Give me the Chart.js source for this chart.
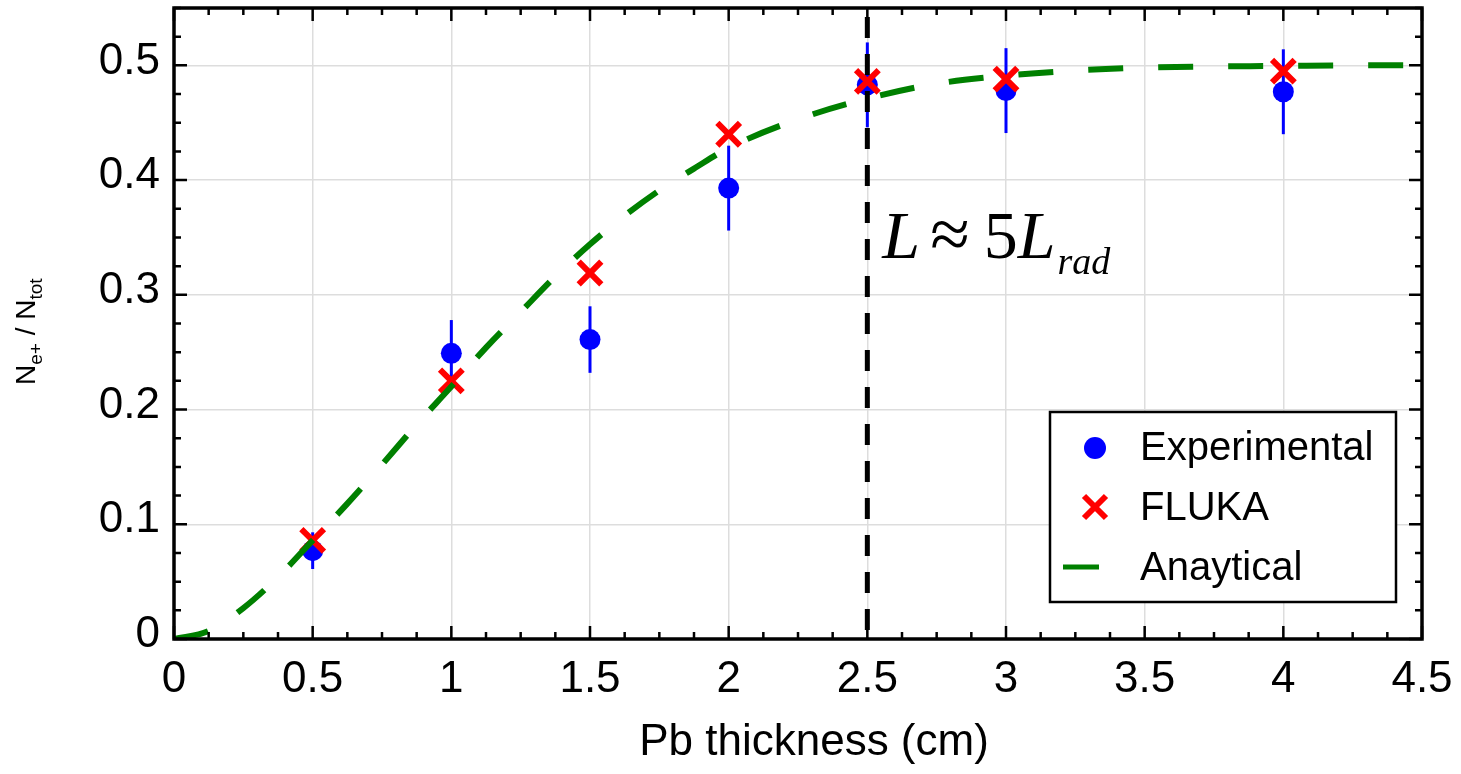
<!DOCTYPE html>
<html>
<head>
<meta charset="utf-8">
<script src="https://cdn.jsdelivr.net/npm/chart.js@4.4.0/dist/chart.umd.min.js"></script>
<style>
  html, body { margin: 0; padding: 0; background: #fff; }
  canvas { display: block; }
</style>
</head>
<body>
<canvas id="myChart" width="1461" height="774"></canvas>
<script>
// data
const xExp = [0.5, 1, 1.5, 2, 2.5, 3, 4];
const yExp = [0.077, 0.249, 0.261, 0.393, 0.483, 0.478, 0.477];
const errExp = [0.016, 0.029, 0.029, 0.037, 0.037, 0.037, 0.037];

const xFluka = [0.5, 1, 1.5, 2, 2.5, 3, 4];
const yFluka = [0.086, 0.225, 0.319, 0.440, 0.486, 0.488, 0.495];

const xAnalytic = [0, 0.125, 0.25, 0.375, 0.5, 0.625, 0.75, 0.875, 1, 1.125, 1.25, 1.375, 1.5, 1.625, 1.75, 1.875, 2, 2.25, 2.5, 2.75, 3, 3.25, 3.5, 3.75, 4, 4.25, 4.5];
const yAnalytic = [0, 0.007, 0.027, 0.054, 0.086, 0.118, 0.152, 0.187, 0.220, 0.254, 0.285, 0.316, 0.344, 0.369, 0.391, 0.410, 0.428, 0.453, 0.471, 0.484, 0.491, 0.4955, 0.498, 0.499, 0.4995, 0.5, 0.5];

const markerX = 2.5;

const xTicks = [0, 0.5, 1, 1.5, 2, 2.5, 3, 3.5, 4, 4.5];
const xTickLabels = ['0', '0.5', '1', '1.5', '2', '2.5', '3', '3.5', '4', '4.5'];
const yTicks = [0, 0.1, 0.2, 0.3, 0.4, 0.5];
const yTickLabels = ['0', '0.1', '0.2', '0.3', '0.4', '0.5'];

const SANS = '"Liberation Sans", Arial, Helvetica, sans-serif';
const SERIF = '"Liberation Serif", "Times New Roman", serif';

const toPts = (xs, ys) => xs.map((x, i) => ({ x: x, y: ys[i] }));

// error bars under the markers
const errorBars = {
  id: 'errorBars',
  beforeDatasetsDraw(chart) {
    const ctx = chart.ctx;
    const xs = chart.scales.x, ys = chart.scales.y;
    ctx.save();
    ctx.strokeStyle = '#0000ff';
    ctx.lineWidth = 3;
    xExp.forEach((x, i) => {
      const px = xs.getPixelForValue(x);
      ctx.beginPath();
      ctx.moveTo(px, ys.getPixelForValue(yExp[i] - errExp[i]));
      ctx.lineTo(px, ys.getPixelForValue(yExp[i] + errExp[i]));
      ctx.stroke();
    });
    ctx.restore();
  }
};

// frame with inward ticks on all four sides
const frame = {
  id: 'frame',
  afterDatasetsDraw(chart) {
    const ctx = chart.ctx;
    const a = chart.chartArea;
    const xs = chart.scales.x, ys = chart.scales.y;
    ctx.save();
    ctx.strokeStyle = '#000';
    ctx.lineWidth = 2.5;
    ctx.beginPath();
    for (let v = 0; v <= 4.5001; v += 0.125) {
      const major = Math.abs(v / 0.5 - Math.round(v / 0.5)) < 1e-6;
      const len = major ? 13 : 7;
      const px = xs.getPixelForValue(v);
      ctx.moveTo(px, a.bottom); ctx.lineTo(px, a.bottom - len);
      ctx.moveTo(px, a.top); ctx.lineTo(px, a.top + len);
    }
    for (let v = 0; v <= 0.5501; v += 0.025) {
      const major = Math.abs(v / 0.1 - Math.round(v / 0.1)) < 1e-6;
      const len = major ? 13 : 7;
      const py = ys.getPixelForValue(v);
      ctx.moveTo(a.left, py); ctx.lineTo(a.left + len, py);
      ctx.moveTo(a.right, py); ctx.lineTo(a.right - len, py);
    }
    ctx.stroke();
    ctx.lineWidth = 3.5;
    ctx.strokeRect(a.left, a.top, a.right - a.left, a.bottom - a.top);
    ctx.restore();
  }
};

// titles, annotation and legend box
const extras = {
  id: 'extras',
  afterDraw(chart) {
    const ctx = chart.ctx;
    const a = chart.chartArea;
    const xs = chart.scales.x;
    ctx.save();
    ctx.fillStyle = '#000';
    ctx.textBaseline = 'alphabetic';

    // x title
    ctx.font = '44px ' + SANS;
    ctx.textAlign = 'center';
    ctx.fillText('Pb thickness (cm)', 814, 755);

    // y title with subscripts, rotated
    ctx.save();
    ctx.translate(35, 385);
    ctx.rotate(-Math.PI / 2);
    ctx.textAlign = 'left';
    let cx = 0;
    const parts = [['N', 28, 0], ['e+', 19, 7], [' / N', 28, 0], ['tot', 19, 7]];
    parts.forEach(p => {
      ctx.font = p[1] + 'px ' + SANS;
      ctx.fillText(p[0], cx, p[2]);
      cx += ctx.measureText(p[0]).width;
    });
    ctx.restore();

    // annotation next to the dashed line
    ctx.textAlign = 'left';
    let ax = xs.getPixelForValue(markerX) + 15;
    const base = 258;
    const ann = [['L', 'italic 68px ' + SERIF, 0, 10], ['\u2248', '72px ' + SERIF, 0, 14], ['5', '68px ' + SERIF, 0, 0], ['L', 'italic 68px ' + SERIF, 0, 2], ['rad', 'italic 38px ' + SERIF, 16, 0]];
    ann.forEach(p => {
      ctx.font = p[1];
      ctx.fillText(p[0], ax, base + p[2]);
      ax += ctx.measureText(p[0]).width + p[3];
    });

    // legend
    const bx = a.right - 372, by = a.bottom - 227, bw = 346, bh = 190;
    ctx.fillStyle = '#fff';
    ctx.fillRect(bx, by, bw, bh);
    ctx.strokeStyle = '#000';
    ctx.lineWidth = 2.5;
    ctx.strokeRect(bx, by, bw, bh);

    const sx = bx + 45;
    ctx.fillStyle = '#0000ff';
    ctx.beginPath();
    ctx.arc(sx, by + 36, 11, 0, Math.PI * 2);
    ctx.fill();

    ctx.strokeStyle = '#ff0000';
    ctx.lineWidth = 6;
    ctx.beginPath();
    ctx.moveTo(sx - 11, by + 84); ctx.lineTo(sx + 11, by + 106);
    ctx.moveTo(sx + 11, by + 84); ctx.lineTo(sx - 11, by + 106);
    ctx.stroke();

    ctx.strokeStyle = '#008000';
    ctx.lineWidth = 5;
    ctx.beginPath();
    ctx.moveTo(bx + 13, by + 155); ctx.lineTo(bx + 49, by + 155);
    ctx.stroke();

    ctx.fillStyle = '#000';
    ctx.font = '40px ' + SANS;
    ctx.fillText('Experimental', bx + 90, by + 48);
    ctx.fillText('FLUKA', bx + 90, by + 108);
    ctx.fillText('Anaytical', bx + 90, by + 168);
    ctx.restore();
  }
};

const ctx = document.getElementById('myChart').getContext('2d');

new Chart(ctx, {
  type: 'scatter',
  data: {
    datasets: [
      {
        label: 'marker',
        data: [{ x: markerX, y: 0 }, { x: markerX, y: 0.55 }],
        showLine: true,
        borderColor: '#000',
        borderWidth: 5,
        borderDash: [21, 16],
        borderDashOffset: 28,
        pointRadius: 0,
        order: 0
      },
      {
        label: 'Anaytical',
        data: toPts(xAnalytic, yAnalytic),
        showLine: true,
        borderColor: '#008000',
        borderWidth: 6,
        borderDash: [35, 35],
        borderCapStyle: 'butt',
        cubicInterpolationMode: 'monotone',
        pointRadius: 0,
        order: 1
      },
      {
        label: 'FLUKA',
        data: toPts(xFluka, yFluka),
        pointStyle: 'crossRot',
        pointRadius: 16,
        borderColor: '#ff0000',
        borderWidth: 6,
        order: 2
      },
      {
        label: 'Experimental',
        data: toPts(xExp, yExp),
        pointStyle: 'circle',
        pointRadius: 10.5,
        backgroundColor: '#0000ff',
        borderWidth: 0,
        order: 3
      }
    ]
  },
  options: {
    responsive: false,
    animation: false,
    layout: { autoPadding: false, padding: { top: 8, right: 39, left: 0, bottom: 0 } },
    plugins: {
      legend: { display: false },
      tooltip: { enabled: false }
    },
    scales: {
      x: {
        type: 'linear',
        min: 0,
        max: 4.5,
        afterBuildTicks: s => { s.ticks = xTicks.map(v => ({ value: v })); },
        afterFit: s => { s.height = 135; s.paddingLeft = 0; s.paddingRight = 0; },
        border: { display: false },
        grid: { color: '#dddddd', lineWidth: 1.5, drawTicks: false },
        ticks: {
          callback: (v, i) => xTickLabels[i],
          font: { family: SANS, size: 44 },
          color: '#000',
          padding: 14,
          maxRotation: 0
        }
      },
      y: {
        type: 'linear',
        min: 0,
        max: 0.55,
        afterBuildTicks: s => { s.ticks = yTicks.map(v => ({ value: v })); },
        afterFit: s => { s.width = 174; s.paddingTop = 0; s.paddingBottom = 0; },
        border: { display: false },
        grid: { color: '#dddddd', lineWidth: 1.5, drawTicks: false },
        ticks: {
          callback: (v, i) => yTickLabels[i],
          font: { family: SANS, size: 44 },
          color: '#000',
          padding: 14,
          labelOffset: -4
        }
      }
    }
  },
  plugins: [errorBars, frame, extras]
});
</script>
</body>
</html>
